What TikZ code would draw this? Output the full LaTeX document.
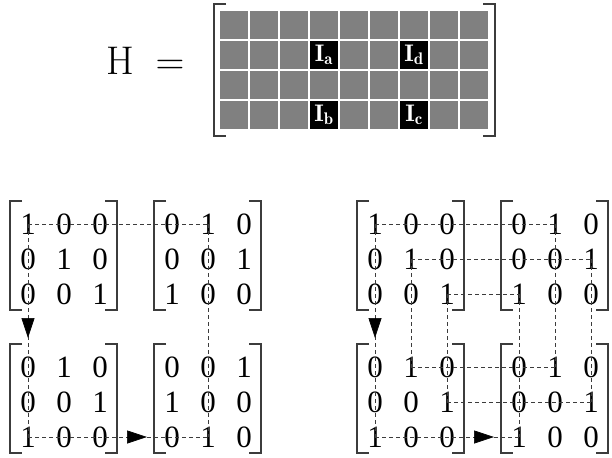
\RequirePackage{fix-cm}
\documentclass[tikz,border=0pt]{standalone}
\usepackage{fontspec}
\newfontfamily\tnr{Liberation Serif}
\usetikzlibrary{arrows.meta,calc}
\definecolor{cellgray}{RGB}{128,128,128}
\definecolor{linegray}{RGB}{60,60,60}
\newcommand\putmat[4]{%
  \foreach \ra/\rb/\rc [count=\ri] in {#4} {
    \node[dig] (#1-\ri-1) at (#2,#3+35*\ri-35) {\ra};
    \node[dig] (#1-\ri-2) at (#2+36,#3+35*\ri-35) {\rb};
    \node[dig] (#1-\ri-3) at (#2+72,#3+35*\ri-35) {\rc};
  }
  \draw[brk] (#2-6,#3-23) -- (#2-18,#3-23) -- (#2-18,#3+86) -- (#2-6,#3+86);
  \draw[brk] (#2+77,#3-23) -- (#2+89,#3-23) -- (#2+89,#3+86) -- (#2+77,#3+86);
}
\newcommand\midarrow[3]{% from, to, distance of tip from start
  \draw[tip] ($(#1)!#3-20pt!(#2)$) -- ($(#1)!#3!(#2)$);
}
\begin{document}
\begin{tikzpicture}[x=1pt,y=-1pt,
  dig/.style={inner sep=0pt,font=\tnr\fontsize{31}{31}\selectfont},
  brk/.style={draw=linegray,line width=1.1pt},
  dl/.style={draw=linegray,line width=0.9pt,dash pattern=on 4pt off 3pt},
  tip/.style={draw=black,line width=0.6pt,-{Triangle[length=20pt,width=13pt]}},
  blk/.style={fill=black,minimum width=28pt,minimum height=28pt,inner sep=0pt,text=white,font=\fontsize{24}{24}\selectfont},
  big/.style={inner sep=0pt,anchor=base,font=\fontsize{40}{40}\selectfont}]
\useasboundingbox (0,0) rectangle (612,457);
% H =
\node[big] (H) at (120,75) {H};
\node[big] (eq) at (170,75) {$=$};
% grid
\foreach \i in {0,...,8}
  \foreach \j in {0,...,3}
    \fill[cellgray] (219+30*\i+1,10+30*\j+1) rectangle ++(28,28);
\node[blk] (Ia) at (324,55) {$\mathbf{I}_{\mathbf{a}}$};
\node[blk] (Id) at (414,55) {$\mathbf{I}_{\mathbf{d}}$};
\node[blk] (Ib) at (324,115) {$\mathbf{I}_{\mathbf{b}}$};
\node[blk] (Ic) at (414,115) {$\mathbf{I}_{\mathbf{c}}$};
\draw[brk] (226,4) -- (214,4) -- (214,136) -- (226,136);
\draw[brk] (483,4) -- (495,4) -- (495,136) -- (483,136);
% left figure
\putmat{LTL}{28}{224}{1/0/0,0/1/0,0/0/1}
\putmat{LTR}{172}{224}{0/1/0,0/0/1,1/0/0}
\putmat{LBL}{28}{367}{0/1/0,0/0/1,1/0/0}
\putmat{LBR}{172}{367}{0/0/1,1/0/0,0/1/0}
% right figure
\putmat{RTL}{375}{224}{1/0/0,0/1/0,0/0/1}
\putmat{RTR}{519}{224}{0/1/0,0/0/1,1/0/0}
\putmat{RBL}{375}{367}{0/1/0,0/0/1,1/0/0}
\putmat{RBR}{519}{367}{0/1/0,0/0/1,1/0/0}
% left connectors
\draw[dl] (LTL-1-1.center) -- (LTR-1-2.center);
\draw[dl] (LTR-1-2.center) -- (LBR-3-2.center);
\draw[dl] (LBL-3-1.center) -- (LBR-3-2.center);
\midarrow{LBL-3-1.center}{LBR-3-2.center}{119pt}
\draw[dl] (LTL-1-1.center) -- (LBL-3-1.center);
\midarrow{LTL-1-1.center}{LBL-3-1.center}{114pt}
% right connectors
\draw[dl] (RTL-1-1.center) -- (RTR-1-2.center);
\draw[dl] (RTL-2-2.center) -- (RTR-2-3.center);
\draw[dl] (RTL-3-3.center) -- (RTR-3-1.center);
\draw[dl] (RBL-1-2.center) -- (RBR-1-2.center);
\draw[dl] (RBL-2-3.center) -- (RBR-2-3.center);
\draw[dl] (RBL-3-1.center) -- (RBR-3-1.center);
\midarrow{RBL-3-1.center}{RBR-3-1.center}{119pt}
\draw[dl] (RTL-1-1.center) -- (RBL-3-1.center);
\midarrow{RTL-1-1.center}{RBL-3-1.center}{114pt}
\draw[dl] (RTL-2-2.center) -- (RBL-1-2.center);
\draw[dl] (RTL-3-3.center) -- (RBL-2-3.center);
\draw[dl] (RTR-3-1.center) -- (RBR-3-1.center);
\draw[dl] (RTR-1-2.center) -- (RBR-1-2.center);
\draw[dl] (RTR-2-3.center) -- (RBR-2-3.center);
\end{tikzpicture}
\end{document}
